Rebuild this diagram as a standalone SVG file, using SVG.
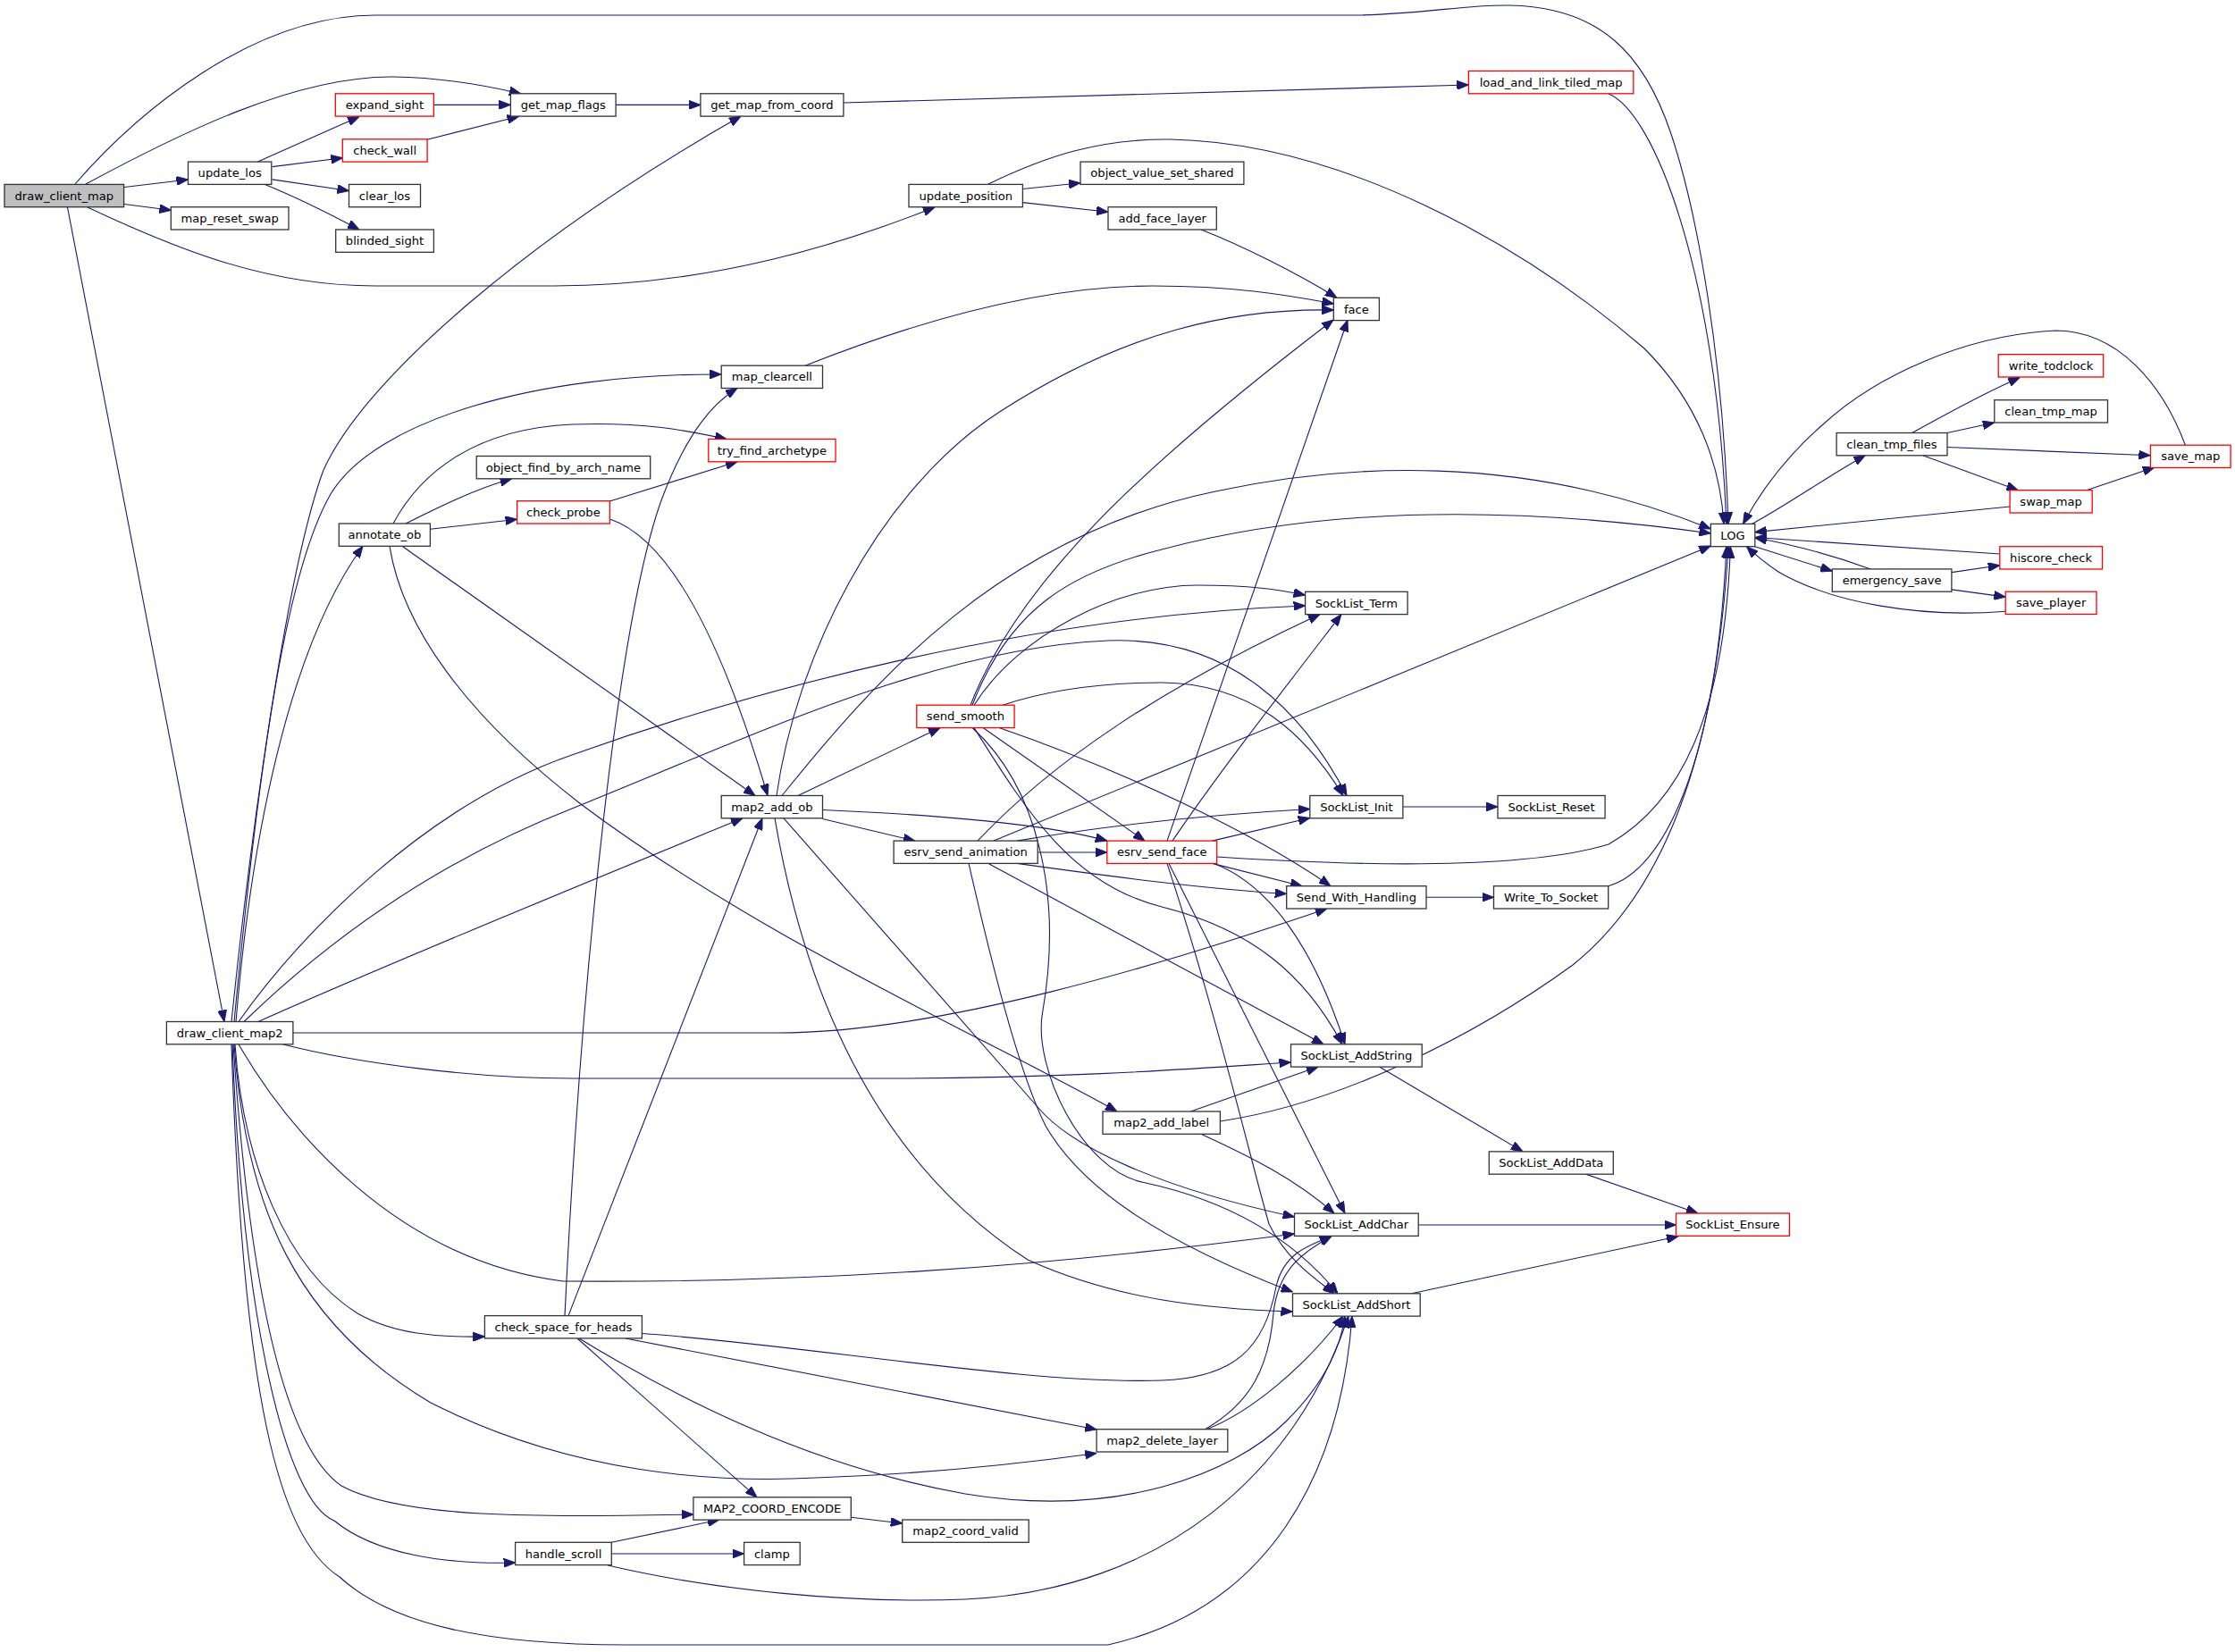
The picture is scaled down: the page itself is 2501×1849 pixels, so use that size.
<svg xmlns="http://www.w3.org/2000/svg" width="2501" height="1849" viewBox="0 0 2501 1849">
<defs>
<marker id="a" viewBox="0 0 13 10" refX="13" refY="5" markerWidth="13" markerHeight="10" markerUnits="userSpaceOnUse" orient="auto">
<path d="M0,0 L13,5 L0,10 z" fill="#191970" stroke="#191970" stroke-width="1"/>
</marker>
</defs>
<style>
.n rect{fill:#fff;stroke:#333;stroke-width:1.3}
.n.r rect{stroke:#ff0000}
.n.g rect{fill:#bfbfbf}
.n text{font-family:"DejaVu Sans","Liberation Sans",sans-serif;font-size:13.1px;text-anchor:middle;fill:#000}
#edges path{fill:none;stroke:#191970;stroke-width:1.1;marker-end:url(#a)}
</style>
<rect x="0" y="0" width="2501" height="1849" fill="#fff"/>
<g id="edges">
<path d="M84,206 C150,130 280,17 420,17 L1520,17 C1600,15 1640,5 1690,6 C1790,8 1840,60 1870,150 C1900,240 1928,400 1934,586.4"/>
<path d="M96,206 C200,150 330,85 440,86 C500,87 550,97 583,105"/>
<path d="M139,209.5 L210.5,201"/>
<path d="M139,228.5 L191.3,235.3"/>
<path d="M98,232 C200,280 300,320 420,320 L620,320 C800,320 950,270 1046,232"/>
<path d="M75.5,232 L251,1143.5"/>
<path d="M288.5,181 L402,130.5"/>
<path d="M304.6,186.6 L383.3,176.7"/>
<path d="M304.6,200.9 L390.5,213.5"/>
<path d="M296.5,206.5 C330,220 370,240 402,257"/>
<path d="M485.4,117.4 L571.4,117.4"/>
<path d="M478,156.2 L580.6,130.3"/>
<path d="M689,117.4 L784,117.4"/>
<path d="M944,115 L1643.4,95"/>
<path d="M1800,105 C1850,125 1920,300 1932,586.4"/>
<path d="M1106,206 C1170,175 1230,155 1310,156 C1500,160 1700,270 1840,390 C1900,450 1925,520 1929,586.4"/>
<path d="M1144.4,211.5 L1209,204.8"/>
<path d="M1144.4,226.6 L1240,237.2"/>
<path d="M1344,257 C1390,275 1450,305 1496,333.3"/>
<path d="M259,1143.5 C280,940 320,640 362,526 C410,420 600,260 829,130.1"/>
<path d="M262,1143.5 C290,850 320,640 370,553 C420,470 600,418 807.2,419"/>
<path d="M264,1143.5 C280,950 320,730 406,611.3"/>
<path d="M267,1143.5 C340,1040 480,900 640,845 C850,770 1150,690 1460.6,678"/>
<path d="M273,1143.5 C380,1040 500,960 640,905 C850,820 1050,725 1240,717 C1380,712 1460,800 1507,890.5"/>
<path d="M289,1143.5 C420,1085 650,990 831,915.8"/>
<path d="M328,1156 L870,1156 C1050,1156 1300,1080 1485,1017"/>
<path d="M317,1169 C400,1190 530,1207 640,1207 L1000,1207 C1200,1207 1350,1195 1444.5,1189"/>
<path d="M267,1169 C320,1260 440,1410 630,1434 C900,1436 1150,1420 1448.5,1381"/>
<path d="M263,1169 C272,1300 320,1420 400,1470 C440,1493 490,1497 542.4,1496"/>
<path d="M262,1169 C275,1350 330,1480 482,1570 C640,1650 800,1660 913,1654 C1030,1650 1130,1640 1227.1,1626.5"/>
<path d="M261,1169 C280,1450 320,1620 382,1663 C450,1700 600,1698 775.9,1695"/>
<path d="M260,1169 C272,1480 320,1680 374,1702 C420,1740 500,1751 576.6,1749"/>
<path d="M259,1169 C272,1560 310,1720 380,1765 C440,1820 550,1841 700,1841 L1240,1841 C1420,1800 1500,1650 1513,1473"/>
<path d="M454,586 C490,568 530,548 572.6,535.8"/>
<path d="M481.4,592.3 L578.6,581.2"/>
<path d="M440,586 C470,530 530,480 640,475 C720,472 770,482 813,491.5"/>
<path d="M450,611.3 L845,890.5"/>
<path d="M436,611.3 C450,700 520,800 650,900 C850,1050 1100,1160 1250,1244"/>
<path d="M682.3,561 L825,516.8"/>
<path d="M682.3,581 C740,600 800,690 859,890.5"/>
<path d="M901,409.2 C1000,370 1150,320 1290,320 C1380,320 1440,330 1492.3,340"/>
<path d="M869,890.5 C890,740 980,550 1120,460 C1260,370 1380,345 1492.3,347"/>
<path d="M893,890.5 L1052,814.5"/>
<path d="M875,890.5 C980,760 1120,600 1360,550 C1500,520 1700,505 1914.3,592"/>
<path d="M920.5,916.5 L1023.8,941.1"/>
<path d="M920.5,906.5 C1050,912 1170,922 1238.8,941.1"/>
<path d="M877,915.8 L1162,1240 C1200,1285 1300,1330 1448.5,1362"/>
<path d="M867,915.8 C890,1050 950,1280 1150,1410 C1250,1455 1350,1465 1446.5,1468"/>
<path d="M1086,789.2 C1140,650 1280,520 1492,358"/>
<path d="M1088,789.2 C1130,680 1200,640 1300,615 C1450,575 1650,560 1914.3,597"/>
<path d="M1090,789.2 C1140,710 1250,655 1340,655 C1400,655 1430,660 1460.6,666"/>
<path d="M1122,789.2 C1180,770 1240,764 1300,764 C1400,765 1460,820 1503,890.5"/>
<path d="M1100,814.5 L1281,941.1"/>
<path d="M1118,814.5 C1250,860 1400,930 1489,991.7"/>
<path d="M1090,814.5 C1150,910 1200,990 1300,1015 C1400,1040 1460,1090 1502,1168.8"/>
<path d="M1088,814.5 C1160,880 1190,1000 1166.5,1134 C1156,1194 1210,1310 1280,1323.5 C1380,1345 1450,1390 1497,1447.8"/>
<path d="M1094,941.1 C1180,850 1300,770 1477,687.6"/>
<path d="M1112,941.1 L1914.3,611"/>
<path d="M1138,941.1 C1250,922 1350,912 1465.8,905.5"/>
<path d="M1161.2,954 L1238.8,954"/>
<path d="M1138,966.4 C1250,982 1350,995 1439.7,1000.4"/>
<path d="M1106,966.4 L1481,1168.8"/>
<path d="M1084,966.4 C1110,1080 1140,1200 1170,1260 C1210,1330 1300,1390 1446.5,1446"/>
<path d="M1306,941.1 L1508,358.2"/>
<path d="M1312,941.1 C1360,870 1430,780 1501,687.6"/>
<path d="M1356.5,941.1 L1465.8,915.5"/>
<path d="M1361.7,959 C1500,968 1700,975 1800,945 C1880,900 1930,800 1936.4,611.7"/>
<path d="M1356.5,966.4 L1457,991.7"/>
<path d="M1358.5,966.4 C1420,990 1470,1060 1505,1168.8"/>
<path d="M1308,966.4 L1505,1358.1"/>
<path d="M1306,966.4 C1360,1130 1400,1300 1420,1370 C1440,1410 1470,1430 1493,1447.8"/>
<path d="M1596,1004.3 L1671.5,1004.3"/>
<path d="M1799.7,991.7 C1860,975 1920,860 1932,611.7"/>
<path d="M1569.9,903 L1676,903"/>
<path d="M1543.4,1194 L1704,1288.9"/>
<path d="M1774.4,1314.2 L1900,1358"/>
<path d="M1587.2,1371 L1875.6,1371"/>
<path d="M1579.5,1447.8 L1878,1383.8"/>
<path d="M1332.4,1244 L1475,1194.1"/>
<path d="M1365.4,1255 C1500,1235 1650,1160 1760,1080 C1860,1000 1920,850 1934,611.7"/>
<path d="M1344.5,1269.5 C1400,1295 1450,1320 1493,1358.1"/>
<path d="M632,1472.6 C650,1100 690,700 740,560 C770,480 800,450 825,434.5"/>
<path d="M636,1472.6 L853,915.8"/>
<path d="M718.4,1492.5 C900,1505 1150,1550 1300,1545 C1380,1542 1415,1510 1428,1440 C1436,1405 1460,1395 1490,1383.7"/>
<path d="M700,1498 L1227.1,1600"/>
<path d="M646,1498 L847,1675.8"/>
<path d="M648,1498 C750,1560 900,1640 1080,1672 C1250,1700 1380,1650 1440,1590 C1480,1550 1500,1510 1505,1473"/>
<path d="M1348.5,1599.7 C1400,1570 1420,1530 1425,1470 C1430,1420 1460,1400 1490,1383.7"/>
<path d="M1350.5,1599.7 C1400,1580 1460,1530 1503,1473"/>
<path d="M684.3,1726.3 L804.8,1701"/>
<path d="M684.3,1739 L832.6,1739"/>
<path d="M680.3,1752 C800,1780 950,1795 1080,1790 C1300,1780 1450,1650 1509,1473"/>
<path d="M952.3,1698.3 L1009.7,1705"/>
<path d="M1960.5,586.4 C2000,565 2050,530 2087.3,509.7"/>
<path d="M1963.8,611.7 L2050.3,639.2"/>
<path d="M2445.4,498.2 C2420,430 2370,370 2300,370 C2200,375 2100,420 2040,475 C2000,510 1970,550 1950.5,586.4"/>
<path d="M2139.6,484.5 C2180,462 2220,440 2260.3,422.4"/>
<path d="M2179,484.5 L2231.8,473"/>
<path d="M2179,500.5 L2406.4,509.7"/>
<path d="M2151.7,509.7 L2258.3,548.7"/>
<path d="M2334.8,548.7 L2411,523"/>
<path d="M2249.1,567 L1963.8,595.6"/>
<path d="M2237.8,620 L1963.8,601.5"/>
<path d="M2093.3,636.9 C2060,625 2010,610 1963.8,602"/>
<path d="M2183.9,640.6 L2237.8,632.8"/>
<path d="M2183.9,659.9 L2244.2,668.1"/>
<path d="M2244.2,684.2 C2150,692 2050,675 1990,640 C1975,630 1963,620 1954.5,611.7"/>
</g>
<g id="draw_client_map" class="n g"><rect x="5" y="206.4" width="133.6" height="25.3"/><text x="71.8" y="223.6">draw_client_map</text></g>
<g id="update_los" class="n"><rect x="210.5" y="181.1" width="93.3" height="25.3"/><text x="257.2" y="198.3">update_los</text></g>
<g id="map_reset_swap" class="n"><rect x="191.3" y="231.7" width="131.7" height="25.3"/><text x="257.2" y="248.9">map_reset_swap</text></g>
<g id="expand_sight" class="n r"><rect x="375.3" y="104.8" width="110.1" height="25.3"/><text x="430.4" y="122">expand_sight</text></g>
<g id="check_wall" class="n r"><rect x="383.3" y="155.8" width="94.8" height="25.3"/><text x="430.7" y="173">check_wall</text></g>
<g id="clear_los" class="n"><rect x="390.5" y="206.4" width="80" height="25.3"/><text x="430.5" y="223.6">clear_los</text></g>
<g id="blinded_sight" class="n"><rect x="375.7" y="257" width="109.7" height="25.3"/><text x="430.5" y="274.2">blinded_sight</text></g>
<g id="get_map_flags" class="n"><rect x="571.4" y="104.8" width="117.7" height="25.3"/><text x="630.3" y="122">get_map_flags</text></g>
<g id="get_map_from_coord" class="n"><rect x="783.9" y="104.8" width="160" height="25.3"/><text x="863.9" y="122">get_map_from_coord</text></g>
<g id="load_and_link_tiled_map" class="n r"><rect x="1643.4" y="79.5" width="184.4" height="25.3"/><text x="1735.6" y="96.7">load_and_link_tiled_map</text></g>
<g id="update_position" class="n"><rect x="1017" y="206.4" width="127.4" height="25.3"/><text x="1080.7" y="223.6">update_position</text></g>
<g id="object_value_set_shared" class="n"><rect x="1209" y="181.1" width="182.9" height="25.3"/><text x="1300.5" y="198.3">object_value_set_shared</text></g>
<g id="add_face_layer" class="n"><rect x="1240" y="231.7" width="121.3" height="25.3"/><text x="1300.7" y="248.9">add_face_layer</text></g>
<g id="face" class="n"><rect x="1492.3" y="333.3" width="51.1" height="25.3"/><text x="1517.9" y="350.5">face</text></g>
<g id="LOG" class="n"><rect x="1914.3" y="586.4" width="49.5" height="25.3"/><text x="1939" y="603.6">LOG</text></g>
<g id="clean_tmp_files" class="n"><rect x="2055.1" y="484.5" width="123.9" height="25.3"/><text x="2117" y="501.7">clean_tmp_files</text></g>
<g id="write_todclock" class="n r"><rect x="2236.2" y="396.7" width="117.5" height="25.3"/><text x="2295" y="413.9">write_todclock</text></g>
<g id="clean_tmp_map" class="n"><rect x="2231.8" y="447.7" width="126.7" height="25.3"/><text x="2295.1" y="464.9">clean_tmp_map</text></g>
<g id="save_map" class="n r"><rect x="2406.4" y="498.2" width="89.7" height="25.3"/><text x="2451.3" y="515.4">save_map</text></g>
<g id="swap_map" class="n r"><rect x="2249.1" y="548.7" width="92.1" height="25.3"/><text x="2295.1" y="565.9">swap_map</text></g>
<g id="hiscore_check" class="n r"><rect x="2237.8" y="611.7" width="114.7" height="25.3"/><text x="2295.1" y="628.9">hiscore_check</text></g>
<g id="emergency_save" class="n"><rect x="2050.3" y="636.9" width="133.6" height="25.3"/><text x="2117.1" y="654.1">emergency_save</text></g>
<g id="save_player" class="n r"><rect x="2244.2" y="662.2" width="101.8" height="25.3"/><text x="2295.1" y="679.4">save_player</text></g>
<g id="map_clearcell" class="n"><rect x="807.2" y="409.2" width="113.3" height="25.3"/><text x="863.9" y="426.4">map_clearcell</text></g>
<g id="try_find_archetype" class="n r"><rect x="792.8" y="491.5" width="142.2" height="25.3"/><text x="863.9" y="508.7">try_find_archetype</text></g>
<g id="object_find_by_arch_name" class="n"><rect x="533.2" y="510.5" width="194.5" height="25.3"/><text x="630.4" y="527.7">object_find_by_arch_name</text></g>
<g id="check_probe" class="n r"><rect x="578.6" y="560.7" width="103.7" height="25.3"/><text x="630.4" y="577.9">check_probe</text></g>
<g id="annotate_ob" class="n"><rect x="379.3" y="586" width="102.1" height="25.3"/><text x="430.4" y="603.2">annotate_ob</text></g>
<g id="SockList_Term" class="n"><rect x="1460.6" y="662.3" width="114.5" height="25.3"/><text x="1517.9" y="679.5">SockList_Term</text></g>
<g id="send_smooth" class="n r"><rect x="1025.8" y="789.2" width="109.3" height="25.3"/><text x="1080.4" y="806.4">send_smooth</text></g>
<g id="map2_add_ob" class="n"><rect x="807.2" y="890.5" width="113.3" height="25.3"/><text x="863.9" y="907.7">map2_add_ob</text></g>
<g id="SockList_Init" class="n"><rect x="1465.8" y="890.5" width="104.1" height="25.3"/><text x="1517.9" y="907.7">SockList_Init</text></g>
<g id="SockList_Reset" class="n"><rect x="1676" y="890.5" width="120.1" height="25.3"/><text x="1736" y="907.7">SockList_Reset</text></g>
<g id="esrv_send_animation" class="n"><rect x="1000.1" y="941.1" width="161.1" height="25.3"/><text x="1080.6" y="958.3">esrv_send_animation</text></g>
<g id="esrv_send_face" class="n r"><rect x="1238.8" y="941.1" width="122.9" height="25.3"/><text x="1300.2" y="958.3">esrv_send_face</text></g>
<g id="Send_With_Handling" class="n"><rect x="1439.7" y="991.7" width="156.3" height="25.3"/><text x="1517.9" y="1008.9">Send_With_Handling</text></g>
<g id="Write_To_Socket" class="n"><rect x="1671.5" y="991.7" width="128.2" height="25.3"/><text x="1735.6" y="1008.9">Write_To_Socket</text></g>
<g id="draw_client_map2" class="n"><rect x="186.4" y="1143.5" width="141.5" height="25.3"/><text x="257.2" y="1160.7">draw_client_map2</text></g>
<g id="SockList_AddString" class="n"><rect x="1444.5" y="1168.8" width="146.7" height="25.3"/><text x="1517.9" y="1186">SockList_AddString</text></g>
<g id="map2_add_label" class="n"><rect x="1234" y="1244" width="131.4" height="25.3"/><text x="1299.7" y="1261.2">map2_add_label</text></g>
<g id="SockList_AddData" class="n"><rect x="1666.3" y="1288.9" width="139" height="25.3"/><text x="1735.8" y="1306.1">SockList_AddData</text></g>
<g id="SockList_AddChar" class="n"><rect x="1448.5" y="1358.1" width="138.7" height="25.3"/><text x="1517.9" y="1375.3">SockList_AddChar</text></g>
<g id="SockList_Ensure" class="n r"><rect x="1875.6" y="1358" width="126.8" height="25.3"/><text x="1939" y="1375.2">SockList_Ensure</text></g>
<g id="SockList_AddShort" class="n"><rect x="1446.5" y="1447.8" width="142.7" height="25.3"/><text x="1517.9" y="1465">SockList_AddShort</text></g>
<g id="check_space_for_heads" class="n"><rect x="542.4" y="1472.6" width="176" height="25.3"/><text x="630.4" y="1489.8">check_space_for_heads</text></g>
<g id="map2_delete_layer" class="n"><rect x="1227.1" y="1599.7" width="146.7" height="25.3"/><text x="1300.5" y="1616.9">map2_delete_layer</text></g>
<g id="MAP2_COORD_ENCODE" class="n"><rect x="775.9" y="1675.8" width="176.4" height="25.3"/><text x="864.1" y="1693">MAP2_COORD_ENCODE</text></g>
<g id="map2_coord_valid" class="n"><rect x="1009.7" y="1701" width="141.5" height="25.3"/><text x="1080.5" y="1718.2">map2_coord_valid</text></g>
<g id="handle_scroll" class="n"><rect x="576.6" y="1726.3" width="107.7" height="25.3"/><text x="630.5" y="1743.5">handle_scroll</text></g>
<g id="clamp" class="n"><rect x="832.6" y="1726.3" width="62.6" height="25.3"/><text x="863.9" y="1743.5">clamp</text></g>
</svg>
